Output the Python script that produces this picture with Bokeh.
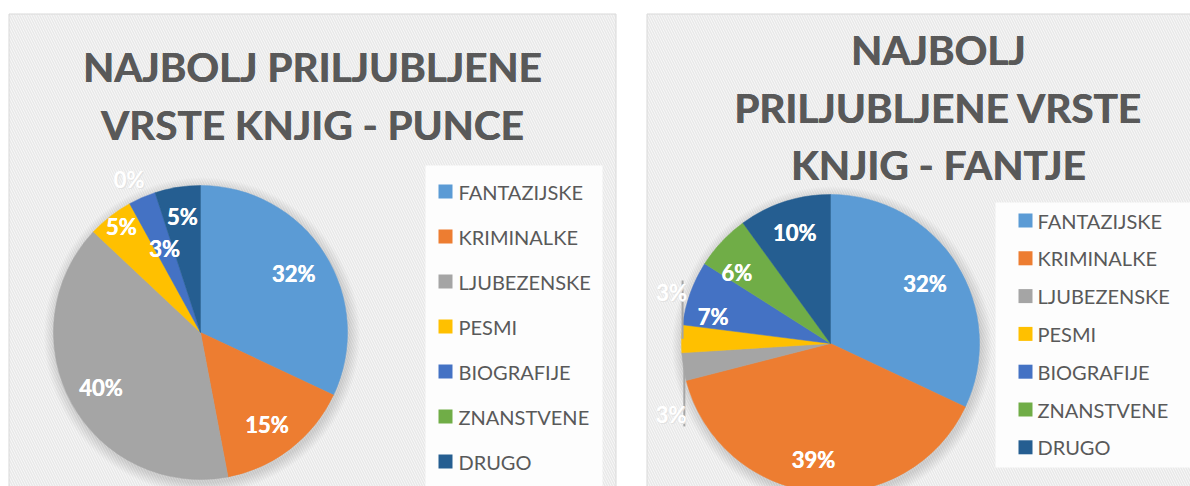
import numpy as np
from bokeh.plotting import figure
from bokeh.models import Range1d, ColumnDataSource
from bokeh.core.properties import value
from bokeh.embed import file_html
from bokeh.resources import INLINE

# ---------------- data ----------------
categories = ["FANTAZIJSKE", "KRIMINALKE", "LJUBEZENSKE", "PESMI",
              "BIOGRAFIJE", "ZNANSTVENE", "DRUGO"]
punce = [32, 15, 40, 5, 3, 0, 5]
fantje = [32, 39, 3, 3, 7, 6, 10]
colors = ["#5B9BD5", "#ED7D31", "#A5A5A5", "#FFC000",
          "#4472C4", "#70AD47", "#255E91"]
title_punce = ["NAJBOLJ PRILJUBLJENE", "VRSTE KNJIG - PUNCE"]
title_fantje = ["NAJBOLJ", "PRILJUBLJENE VRSTE", "KNJIG - FANTJE"]

# ---------------- layout (page pixels, y measured from top) ----------------
W, H = 1190, 486
def Y(sy):
    return 486 - sy

FONT = value("Lato")
TITLE_C = "#595959"

p = figure(width=W, height=H, x_range=Range1d(0, W), y_range=Range1d(0, H),
           output_backend="svg", toolbar_location=None, min_border=0,
           x_axis_type=None, y_axis_type=None)
p.grid.visible = False
p.outline_line_color = None
p.background_fill_color = "white"
p.border_fill_color = "white"

# panels
for (l, r) in [(8.5, 615.5), (646.5, 1210)]:
    p.quad(left=l, right=r, top=Y(13.5), bottom=-20, fill_color="#f7f7f7",
           hatch_pattern="\\", hatch_color="#e8e8e8", hatch_scale=5, hatch_weight=1.4,
           line_color="#d9d9d9", line_width=1)

# legend boxes
p.quad(left=425, right=602, top=Y(165), bottom=-20, fill_color="#fdfdfd", line_color=None)
p.quad(left=995, right=1210, top=Y(202), bottom=Y(467), fill_color="#fdfdfd", line_color=None)


def draw_pie(vals, cx, cy, r, lab_layout, leaders=False):
    v = np.array(vals, dtype=float)
    cum = np.concatenate([[0], np.cumsum(v)]) / v.sum()
    start = np.pi / 2 - 2 * np.pi * cum[:-1]
    end = np.pi / 2 - 2 * np.pi * cum[1:]
    mid = (start + end) / 2
    # soft shadow
    for k in range(1, 12):
        p.circle(x=cx + 1.5, y=cy - 3, radius=r + k, fill_color="black",
                 fill_alpha=0.012, line_color=None)
    nz = v > 0
    src = ColumnDataSource(dict(start=start[nz], end=end[nz],
                                color=[c for c, z in zip(colors, nz) if z]))
    p.wedge(x=cx, y=cy, radius=r, start_angle="start", end_angle="end",
            direction="clock", fill_color="color", line_color="color",
            line_width=0.5, source=src)
    lx, ly, lt, ox, oy, ot = [], [], [], [], [], []
    for i, (fr, da) in enumerate(lab_layout):
        a = mid[i] + np.deg2rad(da)
        x = cx + fr * r * np.cos(a)
        y = cy + fr * r * np.sin(a)
        t = f"{int(vals[i])}%"
        if fr > 1:
            ox.append(x); oy.append(y); ot.append(t)
            if leaders:
                ex = cx + r * np.cos(mid[i]) + 1
                ey = cy + r * np.sin(mid[i])
                ty = y + 12 if y > ey else y - 12
                p.segment(x0=ex, y0=ey, x1=ex, y1=ty, line_color="#a6a6a6", line_width=2)
        else:
            lx.append(x); ly.append(y); lt.append(t)
    for dx in (0, 0.5):
        p.text(x=[a + dx for a in lx], y=ly, text=lt, text_font=FONT, text_font_style="bold",
               text_font_size="22px", text_color="white", text_align="center",
               text_baseline="middle")
    if ox:
        p.text(x=[a + 1 for a in ox], y=[b - 1 for b in oy], text=ot, text_font=FONT,
               text_font_style="bold", text_font_size="22px", text_color="#e2e2e2",
               text_align="center", text_baseline="middle")
        p.text(x=ox, y=oy, text=ot, text_font=FONT, text_font_style="bold",
               text_font_size="22px", text_color="white", text_align="center",
               text_baseline="middle")


left_lab = [(0.75, 0), (0.77, -2), (0.775, 0), (0.9, -1), (0.62, 0), (1.15, 7), (0.8, 0)]
right_lab = [(0.75, 0), (0.79, -3), (1.17, 15), (1.12, -16), (0.81, 7), (0.79, 6), (0.78, 0)]

draw_pie(punce, 200, Y(332), 147, left_lab)
draw_pie(fantje, 830, Y(343), 149, right_lab, leaders=True)

# titles (drawn twice with a sub-pixel offset for a heavier weight)
def draw_title(lines, cx, y0, dy):
    for i, t in enumerate(lines):
        for dx in (-0.35, 0.35):
            p.text(x=[cx + dx], y=[Y(y0 + dy * i)], text=[t], text_font=FONT,
                   text_font_style="bold", text_font_size="40.5px", text_color=TITLE_C,
                   text_align="center", text_baseline="middle")

draw_title(title_punce, 312, 65.5, 58.5)
draw_title(title_fantje, 938, 49, 57.5)

# legends
def draw_legend(sq_x, tx, y0, dy):
    ys = [Y(y0 + dy * i) for i in range(len(categories))]
    p.rect(x=[sq_x] * len(ys), y=ys, width=14, height=14, fill_color=colors, line_color=None)
    p.text(x=[tx] * len(ys), y=ys, text=categories, text_font=FONT,
           text_font_size="20px", text_color=TITLE_C, text_align="left",
           text_baseline="middle")

draw_legend(445, 458, 191, 45)
draw_legend(1025, 1037, 220, 37.8)

open("out.html", "w").write(file_html(p, INLINE))
